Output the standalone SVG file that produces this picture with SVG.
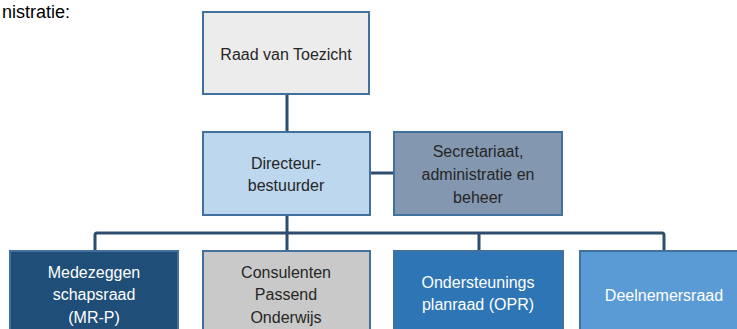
<svg xmlns="http://www.w3.org/2000/svg" width="737" height="329" viewBox="0 0 737 329">
<style>
.box{stroke:#41719c;stroke-width:2}
.t{font-family:"Liberation Sans",Arial,sans-serif;font-size:16px;text-anchor:middle}
.dark{fill:#262626}
.light{fill:#ffffff}
.conn{fill:none;stroke:#2c4d6e;stroke-width:3;stroke-linejoin:round}
</style>
<rect width="737" height="329" fill="#ffffff"/>
<text x="2" y="18" font-family="Liberation Sans,Arial,sans-serif" font-size="18" fill="#000">nistratie:</text>
<g id="connectors">
<line class="conn" x1="287" y1="94" x2="287" y2="132"/>
<line class="conn" x1="370" y1="173" x2="394" y2="173"/>
<line class="conn" x1="287" y1="215" x2="287" y2="251"/>
<path class="conn" d="M95 251 V235 Q95 233 97 233 H662 Q664 233 664 235 V251"/>
<line class="conn" x1="479" y1="233" x2="479" y2="251"/>
</g>
<g id="raad">
<rect class="box" x="203" y="12" width="166" height="82" fill="#ececec"/>
<text class="t dark" x="286" y="60">Raad van Toezicht</text>
</g>
<g id="directeur">
<rect class="box" x="203" y="132" width="167" height="83" fill="#bdd7ee"/>
<text class="t dark" x="286" y="169">Directeur-</text>
<text class="t dark" x="286" y="191">bestuurder</text>
</g>
<g id="secretariaat">
<rect class="box" x="394" y="132" width="168" height="83" fill="#8497b0"/>
<text class="t dark" x="478" y="157">Secretariaat,</text>
<text class="t dark" x="478" y="180">administratie en</text>
<text class="t dark" x="478" y="203">beheer</text>
</g>
<g id="mrp">
<rect class="box" x="10" y="251" width="168" height="90" fill="#1f4e79"/>
<text class="t light" x="94" y="278">Medezeggen</text>
<text class="t light" x="94" y="300">schapsraad</text>
<text class="t light" x="94" y="323">(MR-P)</text>
</g>
<g id="consulenten">
<rect class="box" x="203" y="251" width="167" height="90" fill="#c9c9c9"/>
<text class="t dark" x="286" y="278">Consulenten</text>
<text class="t dark" x="286" y="300">Passend</text>
<text class="t dark" x="286" y="323">Onderwijs</text>
</g>
<g id="opr">
<rect class="box" x="394" y="251" width="169" height="90" fill="#2e75b6"/>
<text class="t light" x="478" y="288">Ondersteunings</text>
<text class="t light" x="478" y="310">planraad (OPR)</text>
</g>
<g id="deelnemersraad">
<rect class="box" x="580" y="251" width="170" height="90" fill="#5b9bd5"/>
<text class="t light" x="664" y="301">Deelnemersraad</text>
</g>
</svg>
